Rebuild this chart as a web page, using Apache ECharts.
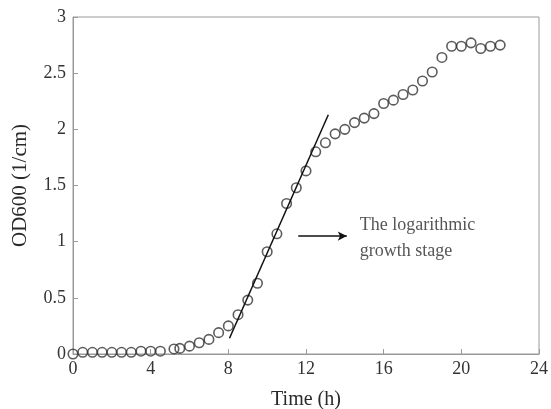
<!DOCTYPE html>
<html>
<head>
<meta charset="utf-8">
<script src="https://cdn.jsdelivr.net/npm/echarts@6/dist/echarts.min.js"></script>
<style>
  html, body { margin: 0; padding: 0; background: #fff; }
  #chart { width: 551px; height: 409px; }
</style>
</head>
<body>
<div id="chart"></div>
<script>
// 采样时间 (h)
const timeData = [0, 0.5, 1, 1.5, 2, 2.5, 3, 3.5, 4, 4.5, 5.2, 5.5, 6, 6.5, 7, 7.5, 8, 8.5, 9, 9.5,
  10, 10.5, 11, 11.5, 12, 12.5, 13, 13.5, 14, 14.5, 15, 15.5, 16, 16.5, 17, 17.5, 18, 18.5,
  19, 19.5, 20, 20.5, 21, 21.5, 22];
// OD600 (1/cm)
const odData = [0, 0.015, 0.015, 0.015, 0.015, 0.015, 0.015, 0.025, 0.025, 0.025, 0.045, 0.05, 0.07, 0.1,
  0.13, 0.19, 0.25, 0.35, 0.48, 0.63, 0.91, 1.07, 1.34, 1.48, 1.63, 1.8, 1.88, 1.96, 2.0, 2.06,
  2.1, 2.14, 2.23, 2.26, 2.31, 2.35, 2.43, 2.51, 2.64, 2.74, 2.74, 2.77, 2.72, 2.74, 2.75];
// 对数期拟合直线
const fitLine = [[8.06, 0.14], [13.15, 2.13]];
// 箭头与说明文字
const arrowLine = [[11.6, 1.05], [14.1, 1.05]];
const notePoint = [14.77, 1.03];
const noteText = 'The logarithmic\ngrowth stage';
// 刻度
const xTicks = [0, 4, 8, 12, 16, 20, 24];
const yTicks = [0, 0.5, 1, 1.5, 2, 2.5, 3];

const chart = echarts.init(document.getElementById('chart'));
const font = 'Liberation Serif';
const axisColor = '#9a9a9a';

chart.setOption({
  animation: false,
  grid: {
    left: 73,
    right: 12,
    top: 17,
    bottom: 55,
    outerBoundsMode: 'none' // 不让坐标轴名称挤压绘图区
  },
  xAxis: {
    type: 'value',
    min: xTicks[0],
    max: xTicks[xTicks.length - 1],
    interval: 4,
    name: 'Time (h)',
    nameLocation: 'middle',
    nameGap: 36,
    nameTextStyle: { fontFamily: font, fontSize: 20, color: '#2a2a2a' },
    axisLine: { onZero: false, lineStyle: { color: axisColor, width: 1 } },
    axisTick: { inside: true, length: 5, lineStyle: { color: axisColor } },
    axisLabel: { margin: 6, fontFamily: font, fontSize: 18, color: '#333' },
    splitLine: { show: false }
  },
  yAxis: {
    type: 'value',
    min: yTicks[0],
    max: yTicks[yTicks.length - 1],
    interval: 0.5,
    name: 'OD600 (1/cm)',
    nameLocation: 'middle',
    nameGap: 42,
    nameTextStyle: { fontFamily: font, fontSize: 21, color: '#2a2a2a' },
    axisLine: { show: true, onZero: false, lineStyle: { color: axisColor, width: 1 } },
    axisTick: { inside: true, length: 5, lineStyle: { color: axisColor } },
    axisLabel: { margin: 7, fontFamily: font, fontSize: 18, color: '#333' },
    splitLine: { show: false }
  },
  graphic: [{
    // 外框的上、右边
    type: 'rect',
    shape: { x: 73, y: 17, width: 466, height: 337 },
    style: { fill: 'none', stroke: axisColor, lineWidth: 1 },
    silent: true,
    z: -1
  }],
  series: [{
    name: 'OD600',
    type: 'scatter',
    symbol: 'circle',
    symbolSize: 9.5,
    itemStyle: {
      color: 'rgba(0,0,0,0)',
      borderColor: '#333',
      borderWidth: 1.6
    },
    data: timeData.map((t, i) => [t, odData[i]]),
    z: 3
  }, {
    name: 'fit',
    type: 'line',
    showSymbol: false,
    symbol: 'none',
    lineStyle: { color: '#111', width: 1.5 },
    data: fitLine,
    z: 4
  }, {
    name: 'arrow',
    type: 'line',
    showSymbol: false,
    symbol: 'none',
    lineStyle: { width: 0 },
    data: [],
    markLine: {
      silent: true,
      symbol: ['none', 'arrow'],
      symbolSize: [7, 9],
      label: { show: false },
      lineStyle: { color: '#111', width: 1.5, type: 'solid' },
      data: [[{ coord: arrowLine[0] }, { coord: arrowLine[1] }]]
    }
  }, {
    name: 'note',
    type: 'scatter',
    symbolSize: 0,
    data: [notePoint],
    label: {
      show: true,
      position: 'right',
      distance: 0,
      formatter: noteText,
      fontFamily: font,
      fontSize: 18,
      lineHeight: 26,
      color: '#2a2a2a'
    }
  }]
});
</script>
</body>
</html>
